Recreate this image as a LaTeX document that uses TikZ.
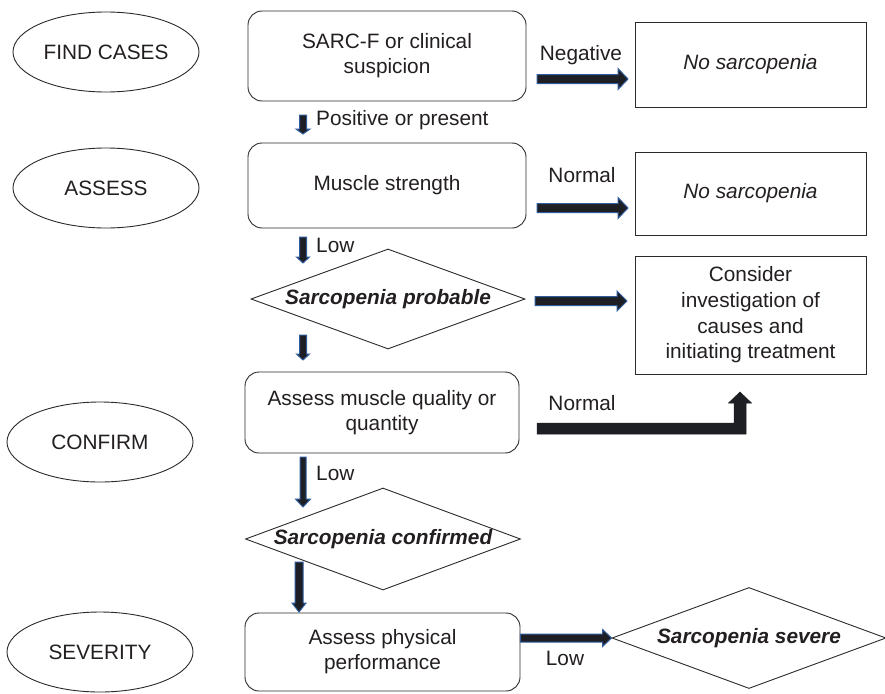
\documentclass[tikz,border=0pt]{standalone}
\usepackage{fontspec}
\setmainfont{Liberation Sans}
\usetikzlibrary{shapes.geometric,calc}
\definecolor{txt}{HTML}{231F20}
\definecolor{adark}{HTML}{1E1F24}
\definecolor{ablue}{HTML}{2F5C9C}
\definecolor{lin}{HTML}{2B2B2B}
\newcommand\blockarr[5]{%
  \path ($(#2)!#5!(#1)$) coordinate (bah);
  \filldraw[barrow] ($(#1)!#3!90:(#2)$) -- ($(bah)!#3!90:(#2)$) -- ($(bah)!#4!90:(#2)$) -- (#2)
    -- ($(bah)!#4!-90:(#2)$) -- ($(bah)!#3!-90:(#2)$) -- ($(#1)!#3!-90:(#2)$) -- cycle;}
\begin{document}
\begin{tikzpicture}[x=1pt,y=-1pt,
  every node/.style={text=txt,font=\fontsize{20.8}{25}\selectfont},
  rbox/.style={draw=lin,line width=0.9pt,rounded corners=14pt,align=center,inner sep=0pt},
  sbox/.style={draw=lin,line width=0.9pt,align=center,inner sep=0pt},
  dia/.style={diamond,draw=lin,line width=0.9pt,aspect=2.75,inner sep=0pt,
    font=\fontsize{20.8}{25}\selectfont\bfseries\itshape},
  ell/.style={ellipse,draw=lin,line width=0.9pt,inner sep=0pt,minimum width=186pt,minimum height=80pt},
  barrow/.style={fill=adark,draw=ablue,line width=1pt,line join=miter},
  bentarrow/.style={fill=adark,draw=adark,line width=0.5pt,line join=miter},
  lbl/.style={inner sep=0pt}]
\useasboundingbox (0,0) rectangle (885,693);
\fill[white] (0,0) rectangle (885,693);

% stage ellipses
\node[ell] (find) at (106,52) {FIND CASES};
\node[ell] (assess) at (106,188) {ASSESS};
\node[ell] (confirm) at (100,442) {CONFIRM};
\node[ell] (severity) at (100,652) {SEVERITY};

% boxes
\node[rbox,minimum width=278pt,minimum height=90pt] (sarc) at (387,56) {SARC-F or clinical\\suspicion};
\node[rbox,minimum width=278pt,minimum height=85pt] (strength) at (387,185.5) {Muscle strength};
\node[rbox,minimum width=274pt,minimum height=81pt] (quality) at (382,412.5) {Assess muscle quality or\\quantity};
\node[rbox,minimum width=275pt,minimum height=78pt] (physical) at (382.5,652) {Assess physical\\performance};
\node[sbox,minimum width=231pt,minimum height=85pt] (nos1) at (750.5,64.5) {\itshape No sarcopenia};
\node[sbox,minimum width=231pt,minimum height=83pt] (nos2) at (750.5,193.5) {\itshape No sarcopenia};
\node[sbox,minimum width=231pt,minimum height=118pt,font=\fontsize{20.8}{25.7}\selectfont] (consider) at (750.5,315)
  {Consider\\investigation of\\causes and\\initiating treatment};

% diamonds
\node[dia,minimum width=274pt,minimum height=100pt] (prob) at (388,299) {Sarcopenia probable};
\node[dia,minimum width=275pt,minimum height=102pt] (conf) at (383,539) {Sarcopenia confirmed};
\node[dia,minimum width=274pt,minimum height=101pt] (sev) at (749,638) {Sarcopenia severe};

% arrow end points
\coordinate (negA) at (537,79);   \coordinate (negB) at (628,79);
\coordinate (nrmA) at (537,208);  \coordinate (nrmB) at (628,208);
\coordinate (prbA) at (535,301);  \coordinate (prbB) at (627,301);
\coordinate (sevA) at (physical.east |- sev.west); \coordinate (sevB) at (sev.west);
\coordinate (posA) at (303,115);  \coordinate (posB) at (303,134);
\coordinate (lowA) at (303,237);  \coordinate (lowB) at (303,263);
\coordinate (midA) at (303,335);  \coordinate (midB) at (303,360);
\coordinate (lw2A) at (303,457);  \coordinate (lw2B) at (303,507);
\coordinate (cnfA) at (299,562);  \coordinate (cnfB) at (299,612);

\blockarr{negA}{negB}{4.5pt}{10.5pt}{10pt}
\blockarr{nrmA}{nrmB}{4.5pt}{10.5pt}{10pt}
\blockarr{prbA}{prbB}{4.5pt}{10pt}{10pt}
\blockarr{sevA}{sevB}{4pt}{8.5pt}{9pt}
\blockarr{posA}{posB}{3.5pt}{7pt}{5pt}
\blockarr{lowA}{lowB}{3.5pt}{6.5pt}{6pt}
\blockarr{midA}{midB}{3.5pt}{6.5pt}{6pt}
\blockarr{lw2A}{lw2B}{3pt}{7.5pt}{8pt}
\blockarr{cnfA}{cnfB}{4pt}{7pt}{9pt}

% bent Normal arrow
\coordinate (bst) at (537,428.5);
\coordinate (btip) at (740,392);
\filldraw[bentarrow] ($(bst)+(0,-5.5)$) -- ($(bst-|btip)+(-6,-5.5)$) -- ($(btip)+(-6,11)$)
  -- ($(btip)+(-11.5,11)$) -- (btip) -- ($(btip)+(11.5,11)$) -- ($(btip)+(6,11)$)
  -- ($(bst-|btip)+(6,5.5)$) -- ($(bst)+(0,5.5)$) -- cycle;

% labels
\node[lbl] (tneg) at (581,55) {Negative};
\node[lbl,anchor=west] (tpos) at (316,120) {Positive or present};
\node[lbl] (tnrm) at (582,175) {Normal};
\node[lbl,anchor=west] (tlow) at (316,245) {Low};
\node[lbl] (tnrm2) at (582,403) {Normal};
\node[lbl,anchor=west] (tlow2) at (316,473) {Low};
\node[lbl] (tlow3) at (565,658) {Low};
\end{tikzpicture}
\end{document}
